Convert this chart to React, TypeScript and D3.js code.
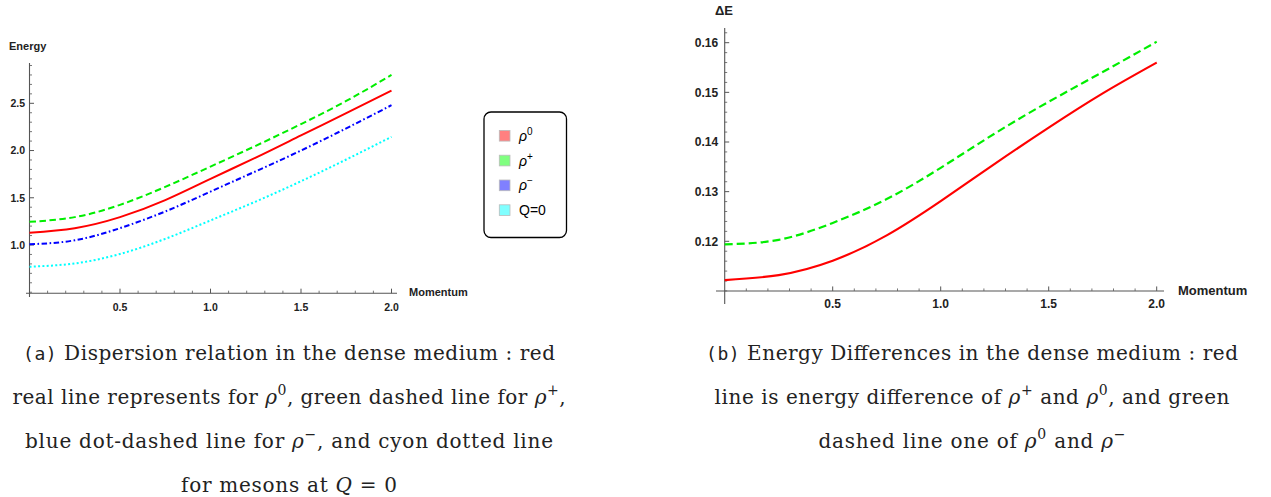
import React from 'react';
import * as d3 from 'd3';

// momentum grid
const momentum = [0, 0.25, 0.5, 0.75, 1.0, 1.25, 1.5, 1.75, 2.0];

// panel (a): energies
const rho0Energy = [1.13, 1.178, 1.295, 1.475, 1.7, 1.925, 2.16, 2.395, 2.635];
const rhoPlusEnergy = [1.245, 1.295, 1.425, 1.615, 1.83, 2.05, 2.28, 2.525, 2.8];
const rhoMinusEnergy = [1.007, 1.05, 1.178, 1.355, 1.565, 1.78, 2.0, 2.235, 2.48];
const q0Energy = [0.77, 0.805, 0.905, 1.065, 1.26, 1.46, 1.675, 1.905, 2.145];

// panel (b): energy differences
const diffPlusZero = [0.1122, 0.1132, 0.1161, 0.1212, 0.1281, 0.1356, 0.1429, 0.1498, 0.156];
const diffZeroMinus = [0.1194, 0.1203, 0.1237, 0.1285, 0.1348, 0.1417, 0.1481, 0.1541, 0.1602];

const momentumTicks = [0.5, 1.0, 1.5, 2.0];
const energyTicks = [1.0, 1.5, 2.0, 2.5];
const deltaTicks = [0.12, 0.13, 0.14, 0.15, 0.16];

const legendItems = [
  { sym: 'ρ', sup: '0', fill: '#ff8080' },
  { sym: 'ρ', sup: '+', fill: '#80ff80' },
  { sym: 'ρ', sup: '−', fill: '#8080ff' },
  { sym: 'Q=0', sup: '', fill: '#80ffff' },
];

type Seg = { t: string; k?: 'mono' | 'math' | 'sup' };

const captionA: Seg[][] = [
  [{ t: '(a)', k: 'mono' }, { t: ' Dispersion relation in the dense medium : red' }],
  [{ t: 'real line represents for ' }, { t: 'ρ', k: 'math' }, { t: '0', k: 'sup' }, { t: ', green dashed line for ' }, { t: 'ρ', k: 'math' }, { t: '+', k: 'sup' }, { t: ',' }],
  [{ t: 'blue dot-dashed line for ' }, { t: 'ρ', k: 'math' }, { t: '−', k: 'sup' }, { t: ', and cyon dotted line' }],
  [{ t: 'for mesons at ' }, { t: 'Q', k: 'math' }, { t: ' = 0' }],
];
const captionAWidths = [532, 553, 528, 216];

const captionB: Seg[][] = [
  [{ t: '(b)', k: 'mono' }, { t: ' Energy Differences in the dense medium : red' }],
  [{ t: 'line is energy difference of ' }, { t: 'ρ', k: 'math' }, { t: '+', k: 'sup' }, { t: ' and ' }, { t: 'ρ', k: 'math' }, { t: '0', k: 'sup' }, { t: ', and green' }],
  [{ t: 'dashed line one of ' }, { t: 'ρ', k: 'math' }, { t: '0', k: 'sup' }, { t: ' and ' }, { t: 'ρ', k: 'math' }, { t: '−', k: 'sup' }],
];
const captionBWidths = [532, 515, 307];

const axisColor = '#555';
const sans = 'Liberation Sans';
const serif = 'DejaVu Serif';
const mono = 'DejaVu Sans Mono';

interface AxesProps {
  x: d3.ScaleLinear<number, number>;
  y: d3.ScaleLinear<number, number>;
  yOrigin: number;
  xMajor: number[];
  xMinor: number[];
  yMajor: number[];
  yMinor: number[];
  xEnd: [number, number];
  yEnd: [number, number];
  yFmt: (v: number) => string;
  fontSize: number;
  labelGap: number;
  xLabelDy: number;
}

const Axes = ({ x, y, yOrigin, xMajor, xMinor, yMajor, yMinor, xEnd, yEnd, yFmt, fontSize, labelGap, xLabelDy }: AxesProps) => {
  const ax = x(0);
  const ay = y(yOrigin);
  return (
    <g>
      <line x1={xEnd[0]} x2={xEnd[1]} y1={ay} y2={ay} stroke={axisColor} strokeWidth={1.1} />
      <line x1={ax} x2={ax} y1={yEnd[0]} y2={yEnd[1]} stroke={axisColor} strokeWidth={1.1} />
      {xMinor.map((v) => (
        <line key={'xm' + v} x1={x(v)} x2={x(v)} y1={ay} y2={ay - 2.5} stroke={axisColor} strokeWidth={0.8} />
      ))}
      {xMajor.map((v) => (
        <g key={'xM' + v}>
          <line x1={x(v)} x2={x(v)} y1={ay} y2={ay - 4.5} stroke={axisColor} strokeWidth={1} />
          <text x={x(v)} y={ay + xLabelDy} textAnchor="middle" fontFamily={sans} fontWeight="bold" fontSize={fontSize} fill="#222">
            {d3.format('.1f')(v)}
          </text>
        </g>
      ))}
      {yMinor.map((v) => (
        <line key={'ym' + v} x1={ax} x2={ax + 2.5} y1={y(v)} y2={y(v)} stroke={axisColor} strokeWidth={0.8} />
      ))}
      {yMajor.map((v) => (
        <g key={'yM' + v}>
          <line x1={ax} x2={ax + 4.5} y1={y(v)} y2={y(v)} stroke={axisColor} strokeWidth={1} />
          <text x={ax - labelGap} y={y(v)} dy="0.36em" textAnchor="end" fontFamily={sans} fontWeight="bold" fontSize={fontSize} fill="#222">
            {yFmt(v)}
          </text>
        </g>
      ))}
    </g>
  );
};

const Caption = ({ lines, widths, cx }: { lines: Seg[][]; widths: number[]; cx: number }) => (
  <g>
    {lines.map((segs, i) => (
      <text
        key={i}
        x={cx}
        y={360 + i * 44}
        textAnchor="middle"
        fontFamily={serif}
        fontSize={20}
        fill="#222"
        textLength={widths[i]}
        lengthAdjust="spacing"
      >
        {segs.map((s, j) => {
          const prevSup = j > 0 && segs[j - 1].k === 'sup';
          if (s.k === 'sup') {
            return <tspan key={j} dy={-9} fontSize={14}>{s.t}</tspan>;
          }
          const dy = prevSup ? 9 : undefined;
          if (s.k === 'mono') {
            return <tspan key={j} dy={dy} fontFamily={mono} fontSize={18}>{s.t}</tspan>;
          }
          if (s.k === 'math') {
            return <tspan key={j} dy={dy} fontStyle="italic">{s.t}</tspan>;
          }
          return <tspan key={j} dy={dy}>{s.t}</tspan>;
        })}
      </text>
    ))}
  </g>
);

export default function App() {
  const xL = d3.scaleLinear().domain([0, 2]).range([29.5, 391.5]);
  const yL = d3.scaleLinear().domain([1.0, 2.5]).range([245, 103.3]);
  const xR = d3.scaleLinear().domain([0, 2]).range([724.7, 1156.7]);
  const yR = d3.scaleLinear().domain([0.12, 0.16]).range([241.3, 42.7]);

  const lineL = (vals: number[]) =>
    d3.line<number>().x((_, i) => xL(momentum[i])).y((d) => yL(d)).curve(d3.curveNatural)(vals) || '';
  const lineR = (vals: number[]) =>
    d3.line<number>().x((_, i) => xR(momentum[i])).y((d) => yR(d)).curve(d3.curveNatural)(vals) || '';

  const tenths = d3.range(1, 21).map((i) => i / 10);
  const xMinor = tenths.filter((v) => !momentumTicks.some((m) => Math.abs(m - v) < 1e-6));
  const yMinorL = d3.range(5, 30).map((i) => i / 10).filter((v) => !energyTicks.some((m) => Math.abs(m - v) < 1e-6));
  const yMinorR = d3.range(55, 82).map((i) => i / 500).filter((v) => !deltaTicks.some((m) => Math.abs(m - v) < 1e-6));

  return (
    <svg width={1271} height={497} style={{ position: 'absolute', left: 0, top: 0, background: '#fff' }}>
      {/* panel (a) */}
      <Axes
        x={xL}
        y={yL}
        yOrigin={0.49}
        xMajor={momentumTicks}
        xMinor={xMinor}
        yMajor={energyTicks}
        yMinor={yMinorL}
        xEnd={[26, 397]}
        yEnd={[63, 297]}
        yFmt={d3.format('.1f')}
        fontSize={10.5}
        labelGap={4.5}
        xLabelDy={17.5}
      />
      <text x={9} y={50} fontFamily={sans} fontWeight="bold" fontSize={11} fill="#222">Energy</text>
      <text x={409} y={296} fontFamily={sans} fontWeight="bold" fontSize={11} fill="#222">Momentum</text>
      <path d={lineL(q0Energy)} fill="none" stroke="#00ffff" strokeWidth={2} strokeDasharray="2,2.3" />
      <path d={lineL(rhoMinusEnergy)} fill="none" stroke="#0000ff" strokeWidth={2} strokeDasharray="5.5,2.5,1.6,2.5" />
      <path d={lineL(rhoPlusEnergy)} fill="none" stroke="#00ee00" strokeWidth={2} strokeDasharray="6.5,3.5" />
      <path d={lineL(rho0Energy)} fill="none" stroke="#ff0000" strokeWidth={2} />

      {/* legend */}
      <rect x={484} y={112} width={82.5} height={125.5} rx={7} fill="#fff" stroke="#000" strokeWidth={1.3} />
      {legendItems.map((it, i) => {
        const cy = 135.7 + i * 24.8;
        return (
          <g key={i}>
            <rect x={499.3} y={cy - 5.3} width={10.7} height={10.7} fill={it.fill} stroke="#bbb" strokeWidth={0.8} />
            <text x={519} y={cy + 5} fontFamily={sans} fontSize={14} fill="#000">
              {it.sup ? (
                <>
                  <tspan fontStyle="italic">{it.sym}</tspan>
                  <tspan dy={-6} fontSize={10}>{it.sup}</tspan>
                </>
              ) : (
                it.sym
              )}
            </text>
          </g>
        );
      })}

      {/* panel (b) */}
      <Axes
        x={xR}
        y={yR}
        yOrigin={0.11}
        xMajor={momentumTicks}
        xMinor={xMinor}
        yMajor={deltaTicks}
        yMinor={yMinorR}
        xEnd={[716, 1164]}
        yEnd={[28, 304]}
        yFmt={d3.format('.2f')}
        fontSize={12}
        labelGap={6.5}
        xLabelDy={17.5}
      />
      <text x={715} y={14.5} fontFamily={sans} fontWeight="bold" fontSize={13} fill="#222">ΔE</text>
      <text x={1178} y={295} fontFamily={sans} fontWeight="bold" fontSize={13} fill="#222">Momentum</text>
      <path d={lineR(diffZeroMinus)} fill="none" stroke="#00ee00" strokeWidth={2.2} strokeDasharray="8,4" />
      <path d={lineR(diffPlusZero)} fill="none" stroke="#ff0000" strokeWidth={2.2} />

      <Caption lines={captionA} widths={captionAWidths} cx={289} />
      <Caption lines={captionB} widths={captionBWidths} cx={972} />
    </svg>
  );
}
